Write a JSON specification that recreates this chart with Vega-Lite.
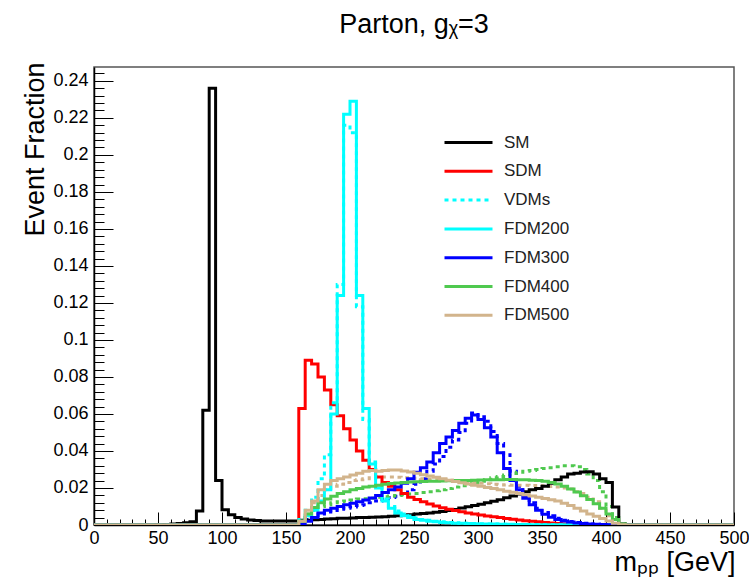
{
  "$schema": "https://vega.github.io/schema/vega-lite/v6.json",
  "autosize": "none",
  "width": 640,
  "height": 458,
  "padding": {"left": 94, "top": 67, "right": 15, "bottom": 52},
  "background": "white",
  "config": {
    "font": "Liberation Sans",
    "view": {"stroke": "#555", "strokeWidth": 1.5},
    "axis": {"grid": false, "domainColor": "black", "domainWidth": 1.5, "tickColor": "black", "tickWidth": 1, "labelColor": "black", "labelFont": "Liberation Sans", "labelFontSize": 18, "labelFlush": false, "titleFont": "Liberation Sans", "titleFontWeight": "normal", "titleColor": "black"}
  },
  "title": {"text": "Parton, gᵪ=3", "font": "Liberation Sans", "fontSize": 27, "fontWeight": "normal", "color": "black", "anchor": "middle", "baseline": "alphabetic", "offset": 2},
  "data": {"values": [
    {"x":0,"SM":0,"SDM":0,"VDMs":0,"FDM200":0,"FDM300":0,"FDM400":0,"FDM500":0,"VDM300":0,"VDM400":0,"VDM500":0},
    {"x":5,"SM":0,"SDM":0,"VDMs":0,"FDM200":0,"FDM300":0,"FDM400":0,"FDM500":0,"VDM300":0,"VDM400":0,"VDM500":0},
    {"x":10,"SM":0,"SDM":0,"VDMs":0,"FDM200":0,"FDM300":0,"FDM400":0,"FDM500":0,"VDM300":0,"VDM400":0,"VDM500":0},
    {"x":15,"SM":0,"SDM":0,"VDMs":0,"FDM200":0,"FDM300":0,"FDM400":0,"FDM500":0,"VDM300":0,"VDM400":0,"VDM500":0},
    {"x":20,"SM":0,"SDM":0,"VDMs":0,"FDM200":0,"FDM300":0,"FDM400":0,"FDM500":0,"VDM300":0,"VDM400":0,"VDM500":0},
    {"x":25,"SM":0,"SDM":0,"VDMs":0,"FDM200":0,"FDM300":0,"FDM400":0,"FDM500":0,"VDM300":0,"VDM400":0,"VDM500":0},
    {"x":30,"SM":0,"SDM":0,"VDMs":0,"FDM200":0,"FDM300":0,"FDM400":0,"FDM500":0,"VDM300":0,"VDM400":0,"VDM500":0},
    {"x":35,"SM":0,"SDM":0,"VDMs":0,"FDM200":0,"FDM300":0,"FDM400":0,"FDM500":0,"VDM300":0,"VDM400":0,"VDM500":0},
    {"x":40,"SM":0,"SDM":0,"VDMs":0,"FDM200":0,"FDM300":0,"FDM400":0,"FDM500":0,"VDM300":0,"VDM400":0,"VDM500":0},
    {"x":45,"SM":0.0001,"SDM":0,"VDMs":0,"FDM200":0,"FDM300":0,"FDM400":0,"FDM500":0,"VDM300":0,"VDM400":0,"VDM500":0},
    {"x":50,"SM":0.0002,"SDM":0,"VDMs":0,"FDM200":0,"FDM300":0,"FDM400":0,"FDM500":0,"VDM300":0,"VDM400":0,"VDM500":0},
    {"x":55,"SM":0.0003,"SDM":0,"VDMs":0,"FDM200":0,"FDM300":0,"FDM400":0,"FDM500":0,"VDM300":0,"VDM400":0,"VDM500":0},
    {"x":60,"SM":0.0005,"SDM":0,"VDMs":0,"FDM200":0,"FDM300":0,"FDM400":0,"FDM500":0,"VDM300":0,"VDM400":0,"VDM500":0},
    {"x":65,"SM":0.0008,"SDM":0,"VDMs":0,"FDM200":0,"FDM300":0,"FDM400":0,"FDM500":0,"VDM300":0,"VDM400":0,"VDM500":0},
    {"x":70,"SM":0.0012,"SDM":0,"VDMs":0,"FDM200":0,"FDM300":0,"FDM400":0,"FDM500":0,"VDM300":0,"VDM400":0,"VDM500":0},
    {"x":75,"SM":0.0018,"SDM":0,"VDMs":0,"FDM200":0,"FDM300":0,"FDM400":0,"FDM500":0,"VDM300":0,"VDM400":0,"VDM500":0},
    {"x":80,"SM":0.0075,"SDM":0,"VDMs":0,"FDM200":0,"FDM300":0,"FDM400":0,"FDM500":0,"VDM300":0,"VDM400":0,"VDM500":0},
    {"x":85,"SM":0.062,"SDM":0,"VDMs":0,"FDM200":0,"FDM300":0,"FDM400":0,"FDM500":0,"VDM300":0,"VDM400":0,"VDM500":0},
    {"x":90,"SM":0.236,"SDM":0,"VDMs":0,"FDM200":0,"FDM300":0,"FDM400":0,"FDM500":0,"VDM300":0,"VDM400":0,"VDM500":0},
    {"x":95,"SM":0.024,"SDM":0,"VDMs":0,"FDM200":0,"FDM300":0,"FDM400":0,"FDM500":0,"VDM300":0,"VDM400":0,"VDM500":0},
    {"x":100,"SM":0.0082,"SDM":0,"VDMs":0,"FDM200":0,"FDM300":0,"FDM400":0,"FDM500":0,"VDM300":0,"VDM400":0,"VDM500":0},
    {"x":105,"SM":0.0055,"SDM":0,"VDMs":0,"FDM200":0,"FDM300":0,"FDM400":0,"FDM500":0,"VDM300":0,"VDM400":0,"VDM500":0},
    {"x":110,"SM":0.004,"SDM":0,"VDMs":0,"FDM200":0,"FDM300":0,"FDM400":0,"FDM500":0,"VDM300":0,"VDM400":0,"VDM500":0},
    {"x":115,"SM":0.0032,"SDM":0,"VDMs":0,"FDM200":0,"FDM300":0,"FDM400":0,"FDM500":0,"VDM300":0,"VDM400":0,"VDM500":0},
    {"x":120,"SM":0.0027,"SDM":0,"VDMs":0,"FDM200":0,"FDM300":0,"FDM400":0,"FDM500":0,"VDM300":0,"VDM400":0,"VDM500":0},
    {"x":125,"SM":0.0024,"SDM":0,"VDMs":0,"FDM200":0,"FDM300":0,"FDM400":0,"FDM500":0,"VDM300":0,"VDM400":0,"VDM500":0},
    {"x":130,"SM":0.0022,"SDM":0,"VDMs":0,"FDM200":0,"FDM300":0,"FDM400":0,"FDM500":0,"VDM300":0,"VDM400":0,"VDM500":0},
    {"x":135,"SM":0.0021,"SDM":0,"VDMs":0,"FDM200":0,"FDM300":0,"FDM400":0,"FDM500":0,"VDM300":0,"VDM400":0,"VDM500":0},
    {"x":140,"SM":0.0021,"SDM":0,"VDMs":0,"FDM200":0,"FDM300":0,"FDM400":0,"FDM500":0,"VDM300":0,"VDM400":0,"VDM500":0},
    {"x":145,"SM":0.0021,"SDM":0,"VDMs":0,"FDM200":0,"FDM300":0,"FDM400":0,"FDM500":0,"VDM300":0,"VDM400":0,"VDM500":0},
    {"x":150,"SM":0.0021,"SDM":0,"VDMs":0,"FDM200":0,"FDM300":0,"FDM400":0,"FDM500":0,"VDM300":0,"VDM400":0,"VDM500":0},
    {"x":155,"SM":0.0022,"SDM":0,"VDMs":0,"FDM200":0,"FDM300":0,"FDM400":0,"FDM500":0,"VDM300":0,"VDM400":0,"VDM500":0},
    {"x":160,"SM":0.0025,"SDM":0.063,"VDMs":0.003,"FDM200":0.002,"FDM300":0.0005,"FDM400":0.002,"FDM500":0.002,"VDM300":0.001,"VDM400":0.002,"VDM500":0.002},
    {"x":165,"SM":0.0026,"SDM":0.089,"VDMs":0.008,"FDM200":0.005,"FDM300":0.002,"FDM400":0.006,"FDM500":0.008,"VDM300":0.003,"VDM400":0.005,"VDM500":0.006},
    {"x":170,"SM":0.0028,"SDM":0.087,"VDMs":0.015,"FDM200":0.008,"FDM300":0.004,"FDM400":0.0095,"FDM500":0.013,"VDM300":0.005,"VDM400":0.008,"VDM500":0.012},
    {"x":175,"SM":0.003,"SDM":0.08,"VDMs":0.025,"FDM200":0.013,"FDM300":0.0065,"FDM400":0.012,"FDM500":0.019,"VDM300":0.006,"VDM400":0.01,"VDM500":0.016},
    {"x":180,"SM":0.0032,"SDM":0.073,"VDMs":0.038,"FDM200":0.019,"FDM300":0.008,"FDM400":0.014,"FDM500":0.022,"VDM300":0.007,"VDM400":0.011,"VDM500":0.019},
    {"x":185,"SM":0.0034,"SDM":0.065,"VDMs":0.066,"FDM200":0.06,"FDM300":0.009,"FDM400":0.0155,"FDM500":0.024,"VDM300":0.0078,"VDM400":0.012,"VDM500":0.021},
    {"x":190,"SM":0.0036,"SDM":0.059,"VDMs":0.13,"FDM200":0.124,"FDM300":0.01,"FDM400":0.017,"FDM500":0.025,"VDM300":0.0085,"VDM400":0.0125,"VDM500":0.022},
    {"x":195,"SM":0.0037,"SDM":0.052,"VDMs":0.216,"FDM200":0.222,"FDM300":0.011,"FDM400":0.018,"FDM500":0.026,"VDM300":0.009,"VDM400":0.013,"VDM500":0.023},
    {"x":200,"SM":0.0038,"SDM":0.046,"VDMs":0.212,"FDM200":0.229,"FDM300":0.0118,"FDM400":0.019,"FDM500":0.027,"VDM300":0.0097,"VDM400":0.0135,"VDM500":0.024},
    {"x":205,"SM":0.004,"SDM":0.04,"VDMs":0.118,"FDM200":0.124,"FDM300":0.0125,"FDM400":0.0197,"FDM500":0.028,"VDM300":0.0105,"VDM400":0.014,"VDM500":0.0245},
    {"x":210,"SM":0.0041,"SDM":0.035,"VDMs":0.057,"FDM200":0.063,"FDM300":0.0135,"FDM400":0.0205,"FDM500":0.029,"VDM300":0.011,"VDM400":0.0142,"VDM500":0.025},
    {"x":215,"SM":0.0042,"SDM":0.03,"VDMs":0.034,"FDM200":0.033,"FDM300":0.0146,"FDM400":0.021,"FDM500":0.0295,"VDM300":0.012,"VDM400":0.0145,"VDM500":0.0255},
    {"x":220,"SM":0.0043,"SDM":0.026,"VDMs":0.021,"FDM200":0.02,"FDM300":0.016,"FDM400":0.0215,"FDM500":0.029,"VDM300":0.013,"VDM400":0.015,"VDM500":0.026},
    {"x":225,"SM":0.0045,"SDM":0.023,"VDMs":0.014,"FDM200":0.013,"FDM300":0.0175,"FDM400":0.022,"FDM500":0.0295,"VDM300":0.014,"VDM400":0.0153,"VDM500":0.026},
    {"x":230,"SM":0.0047,"SDM":0.021,"VDMs":0.01,"FDM200":0.009,"FDM300":0.019,"FDM400":0.0224,"FDM500":0.0297,"VDM300":0.0148,"VDM400":0.0157,"VDM500":0.026},
    {"x":235,"SM":0.005,"SDM":0.019,"VDMs":0.0075,"FDM200":0.0065,"FDM300":0.0205,"FDM400":0.0227,"FDM500":0.0297,"VDM300":0.0155,"VDM400":0.016,"VDM500":0.0258},
    {"x":240,"SM":0.0053,"SDM":0.017,"VDMs":0.006,"FDM200":0.005,"FDM300":0.0225,"FDM400":0.023,"FDM500":0.0292,"VDM300":0.017,"VDM400":0.0163,"VDM500":0.0256},
    {"x":245,"SM":0.0056,"SDM":0.015,"VDMs":0.0048,"FDM200":0.004,"FDM300":0.025,"FDM400":0.0232,"FDM500":0.0287,"VDM300":0.019,"VDM400":0.0167,"VDM500":0.0254},
    {"x":250,"SM":0.0059,"SDM":0.0138,"VDMs":0.0038,"FDM200":0.003,"FDM300":0.0285,"FDM400":0.0234,"FDM500":0.028,"VDM300":0.022,"VDM400":0.017,"VDM500":0.0252},
    {"x":255,"SM":0.0062,"SDM":0.0125,"VDMs":0.003,"FDM200":0.0025,"FDM300":0.031,"FDM400":0.0235,"FDM500":0.0272,"VDM300":0.025,"VDM400":0.0175,"VDM500":0.025},
    {"x":260,"SM":0.0065,"SDM":0.0113,"VDMs":0.0025,"FDM200":0.002,"FDM300":0.034,"FDM400":0.0236,"FDM500":0.0265,"VDM300":0.029,"VDM400":0.018,"VDM500":0.0248},
    {"x":265,"SM":0.0069,"SDM":0.0103,"VDMs":0.002,"FDM200":0.0017,"FDM300":0.039,"FDM400":0.0237,"FDM500":0.0258,"VDM300":0.033,"VDM400":0.0185,"VDM500":0.0246},
    {"x":270,"SM":0.0073,"SDM":0.0093,"VDMs":0.0017,"FDM200":0.0014,"FDM300":0.044,"FDM400":0.0238,"FDM500":0.025,"VDM300":0.037,"VDM400":0.019,"VDM500":0.0244},
    {"x":275,"SM":0.0078,"SDM":0.0085,"VDMs":0.0014,"FDM200":0.0012,"FDM300":0.0475,"FDM400":0.0239,"FDM500":0.0242,"VDM300":0.042,"VDM400":0.0197,"VDM500":0.0242},
    {"x":280,"SM":0.0084,"SDM":0.0078,"VDMs":0.0012,"FDM200":0.001,"FDM300":0.051,"FDM400":0.024,"FDM500":0.0235,"VDM300":0.046,"VDM400":0.0205,"VDM500":0.024},
    {"x":285,"SM":0.0092,"SDM":0.0071,"VDMs":0.001,"FDM200":0.0009,"FDM300":0.055,"FDM400":0.024,"FDM500":0.0228,"VDM300":0.05,"VDM400":0.0212,"VDM500":0.0237},
    {"x":290,"SM":0.0099,"SDM":0.0065,"VDMs":0.0009,"FDM200":0.0008,"FDM300":0.0577,"FDM400":0.0241,"FDM500":0.0222,"VDM300":0.055,"VDM400":0.022,"VDM500":0.0234},
    {"x":295,"SM":0.0105,"SDM":0.006,"VDMs":0.0008,"FDM200":0.0007,"FDM300":0.0595,"FDM400":0.0242,"FDM500":0.0215,"VDM300":0.0605,"VDM400":0.0228,"VDM500":0.023},
    {"x":300,"SM":0.0112,"SDM":0.0054,"VDMs":0.0007,"FDM200":0.0006,"FDM300":0.057,"FDM400":0.0243,"FDM500":0.021,"VDM300":0.0585,"VDM400":0.0236,"VDM500":0.0226},
    {"x":305,"SM":0.012,"SDM":0.0049,"VDMs":0.0006,"FDM200":0.0005,"FDM300":0.0525,"FDM400":0.0244,"FDM500":0.0203,"VDM300":0.056,"VDM400":0.0245,"VDM500":0.0223},
    {"x":310,"SM":0.0128,"SDM":0.0044,"VDMs":0.0005,"FDM200":0.0005,"FDM300":0.0475,"FDM400":0.0245,"FDM500":0.0197,"VDM300":0.0505,"VDM400":0.0255,"VDM500":0.022},
    {"x":315,"SM":0.0137,"SDM":0.004,"VDMs":0.0005,"FDM200":0.0004,"FDM300":0.039,"FDM400":0.0245,"FDM500":0.019,"VDM300":0.044,"VDM400":0.0262,"VDM500":0.0218},
    {"x":320,"SM":0.0147,"SDM":0.0035,"VDMs":0.0004,"FDM200":0.0004,"FDM300":0.0305,"FDM400":0.0246,"FDM500":0.0183,"VDM300":0.038,"VDM400":0.027,"VDM500":0.0216},
    {"x":325,"SM":0.0157,"SDM":0.0031,"VDMs":0.0004,"FDM200":0.0003,"FDM300":0.024,"FDM400":0.0246,"FDM500":0.0177,"VDM300":0.029,"VDM400":0.0278,"VDM500":0.0215},
    {"x":330,"SM":0.0168,"SDM":0.0027,"VDMs":0.0003,"FDM200":0.0003,"FDM300":0.019,"FDM400":0.0245,"FDM500":0.017,"VDM300":0.021,"VDM400":0.0285,"VDM500":0.0215},
    {"x":335,"SM":0.018,"SDM":0.0023,"VDMs":0.0003,"FDM200":0.0003,"FDM300":0.0145,"FDM400":0.0244,"FDM500":0.0163,"VDM300":0.016,"VDM400":0.029,"VDM500":0.0215},
    {"x":340,"SM":0.019,"SDM":0.002,"VDMs":0.0003,"FDM200":0.0002,"FDM300":0.011,"FDM400":0.0242,"FDM500":0.0157,"VDM300":0.012,"VDM400":0.0295,"VDM500":0.0214},
    {"x":345,"SM":0.0197,"SDM":0.0017,"VDMs":0.0002,"FDM200":0.0002,"FDM300":0.008,"FDM400":0.024,"FDM500":0.015,"VDM300":0.009,"VDM400":0.03,"VDM500":0.0213},
    {"x":350,"SM":0.021,"SDM":0.0014,"VDMs":0.0002,"FDM200":0.0002,"FDM300":0.0058,"FDM400":0.0236,"FDM500":0.0143,"VDM300":0.0067,"VDM400":0.0305,"VDM500":0.0211},
    {"x":355,"SM":0.0225,"SDM":0.0011,"VDMs":0.0002,"FDM200":0.0002,"FDM300":0.0042,"FDM400":0.023,"FDM500":0.0137,"VDM300":0.005,"VDM400":0.031,"VDM500":0.0208},
    {"x":360,"SM":0.0245,"SDM":0.0008,"VDMs":0.0002,"FDM200":0.0001,"FDM300":0.003,"FDM400":0.0222,"FDM500":0.013,"VDM300":0.0036,"VDM400":0.0315,"VDM500":0.0205},
    {"x":365,"SM":0.026,"SDM":0.0005,"VDMs":0.0001,"FDM200":0.0001,"FDM300":0.0022,"FDM400":0.021,"FDM500":0.0118,"VDM300":0.0026,"VDM400":0.032,"VDM500":0.02},
    {"x":370,"SM":0.0275,"SDM":0.0003,"VDMs":0.0001,"FDM200":0.0001,"FDM300":0.0016,"FDM400":0.0195,"FDM500":0.0105,"VDM300":0.0019,"VDM400":0.032,"VDM500":0.0195},
    {"x":375,"SM":0.028,"SDM":0.0001,"VDMs":0.0001,"FDM200":0.0001,"FDM300":0.0011,"FDM400":0.0178,"FDM500":0.009,"VDM300":0.0013,"VDM400":0.0315,"VDM500":0.018},
    {"x":380,"SM":0.0287,"SDM":0,"VDMs":0.0001,"FDM200":0.0001,"FDM300":0.0008,"FDM400":0.0158,"FDM500":0.0075,"VDM300":0.0009,"VDM400":0.03,"VDM500":0.017},
    {"x":385,"SM":0.0288,"SDM":0,"VDMs":0.0001,"FDM200":0,"FDM300":0.0005,"FDM400":0.0138,"FDM500":0.006,"VDM300":0.0006,"VDM400":0.0275,"VDM500":0.015},
    {"x":390,"SM":0.0275,"SDM":0,"VDMs":0,"FDM200":0,"FDM300":0.0004,"FDM400":0.0115,"FDM500":0.0047,"VDM300":0.0004,"VDM400":0.024,"VDM500":0.0125},
    {"x":395,"SM":0.025,"SDM":0,"VDMs":0,"FDM200":0,"FDM300":0.0003,"FDM400":0.009,"FDM500":0.0035,"VDM300":0.0003,"VDM400":0.018,"VDM500":0.009},
    {"x":400,"SM":0.023,"SDM":0,"VDMs":0,"FDM200":0,"FDM300":0.0002,"FDM400":0.006,"FDM500":0.0022,"VDM300":0.0002,"VDM400":0.01,"VDM500":0.005},
    {"x":405,"SM":0.0097,"SDM":0,"VDMs":0,"FDM200":0,"FDM300":0.0001,"FDM400":0.003,"FDM500":0.001,"VDM300":0.0001,"VDM400":0.004,"VDM500":0.002},
    {"x":410,"SM":0.0005,"SDM":0,"VDMs":0,"FDM200":0,"FDM300":0,"FDM400":0.0005,"FDM500":0.0002,"VDM300":0,"VDM400":0.0005,"VDM500":0.0003},
    {"x":415,"SM":0,"SDM":0,"VDMs":0,"FDM200":0,"FDM300":0,"FDM400":0,"FDM500":0,"VDM300":0,"VDM400":0,"VDM500":0},
    {"x":420,"SM":0,"SDM":0,"VDMs":0,"FDM200":0,"FDM300":0,"FDM400":0,"FDM500":0,"VDM300":0,"VDM400":0,"VDM500":0},
    {"x":425,"SM":0,"SDM":0,"VDMs":0,"FDM200":0,"FDM300":0,"FDM400":0,"FDM500":0,"VDM300":0,"VDM400":0,"VDM500":0},
    {"x":430,"SM":0,"SDM":0,"VDMs":0,"FDM200":0,"FDM300":0,"FDM400":0,"FDM500":0,"VDM300":0,"VDM400":0,"VDM500":0},
    {"x":435,"SM":0,"SDM":0,"VDMs":0,"FDM200":0,"FDM300":0,"FDM400":0,"FDM500":0,"VDM300":0,"VDM400":0,"VDM500":0},
    {"x":440,"SM":0,"SDM":0,"VDMs":0,"FDM200":0,"FDM300":0,"FDM400":0,"FDM500":0,"VDM300":0,"VDM400":0,"VDM500":0},
    {"x":445,"SM":0,"SDM":0,"VDMs":0,"FDM200":0,"FDM300":0,"FDM400":0,"FDM500":0,"VDM300":0,"VDM400":0,"VDM500":0},
    {"x":450,"SM":0,"SDM":0,"VDMs":0,"FDM200":0,"FDM300":0,"FDM400":0,"FDM500":0,"VDM300":0,"VDM400":0,"VDM500":0},
    {"x":455,"SM":0,"SDM":0,"VDMs":0,"FDM200":0,"FDM300":0,"FDM400":0,"FDM500":0,"VDM300":0,"VDM400":0,"VDM500":0},
    {"x":460,"SM":0,"SDM":0,"VDMs":0,"FDM200":0,"FDM300":0,"FDM400":0,"FDM500":0,"VDM300":0,"VDM400":0,"VDM500":0},
    {"x":465,"SM":0,"SDM":0,"VDMs":0,"FDM200":0,"FDM300":0,"FDM400":0,"FDM500":0,"VDM300":0,"VDM400":0,"VDM500":0},
    {"x":470,"SM":0,"SDM":0,"VDMs":0,"FDM200":0,"FDM300":0,"FDM400":0,"FDM500":0,"VDM300":0,"VDM400":0,"VDM500":0},
    {"x":475,"SM":0,"SDM":0,"VDMs":0,"FDM200":0,"FDM300":0,"FDM400":0,"FDM500":0,"VDM300":0,"VDM400":0,"VDM500":0},
    {"x":480,"SM":0,"SDM":0,"VDMs":0,"FDM200":0,"FDM300":0,"FDM400":0,"FDM500":0,"VDM300":0,"VDM400":0,"VDM500":0},
    {"x":485,"SM":0,"SDM":0,"VDMs":0,"FDM200":0,"FDM300":0,"FDM400":0,"FDM500":0,"VDM300":0,"VDM400":0,"VDM500":0},
    {"x":490,"SM":0,"SDM":0,"VDMs":0,"FDM200":0,"FDM300":0,"FDM400":0,"FDM500":0,"VDM300":0,"VDM400":0,"VDM500":0},
    {"x":495,"SM":0,"SDM":0,"VDMs":0,"FDM200":0,"FDM300":0,"FDM400":0,"FDM500":0,"VDM300":0,"VDM400":0,"VDM500":0},
    {"x":500,"SM":0,"SDM":0,"VDMs":0,"FDM200":0,"FDM300":0,"FDM400":0,"FDM500":0,"VDM300":0,"VDM400":0,"VDM500":0}
  ]},
  "resolve": {"axis": {"x": "independent", "y": "independent"}},
  "layer": [
    {
      "transform": [{"fold": ["VDM300", "VDM400", "VDM500"], "as": ["series", "value"]}],
      "mark": {"type": "line", "interpolate": "step-after", "strokeWidth": 3, "strokeDash": [4, 4], "clip": true},
      "encoding": {
        "x": {"field": "x", "type": "quantitative", "scale": {"domain": [0, 500], "nice": false, "zero": false},
              "axis": {"orient": "bottom", "values": [0,10,20,30,40,60,70,80,90,110,120,130,140,160,170,180,190,210,220,230,240,260,270,280,290,310,320,330,340,360,370,380,390,410,420,430,440,460,470,480,490], "labels": false, "domain": false, "tickSize": -6, "title": null}},
        "y": {"field": "value", "type": "quantitative", "scale": {"domain": [0, 0.2475], "nice": false},
              "axis": {"orient": "left", "values": [0.004,0.008,0.012,0.016,0.024,0.028,0.032,0.036,0.044,0.048,0.052,0.056,0.064,0.068,0.072,0.076,0.084,0.088,0.092,0.096,0.104,0.108,0.112,0.116,0.124,0.128,0.132,0.136,0.144,0.148,0.152,0.156,0.164,0.168,0.172,0.176,0.184,0.188,0.192,0.196,0.204,0.208,0.212,0.216,0.224,0.228,0.232,0.236,0.244], "labels": false, "domain": false, "tickSize": -10, "title": null}},
        "stroke": {"field": "series", "type": "nominal", "scale": {"domain": ["VDM300", "VDM400", "VDM500"], "range": ["#0000ff", "#4fc94f", "#d2b48c"]}, "legend": null}
      }
    },
    {
      "transform": [{"fold": ["SM", "SDM", "VDMs", "FDM200", "FDM300", "FDM400", "FDM500"], "as": ["series", "value"]}],
      "mark": {"type": "line", "interpolate": "step-after", "strokeWidth": 3, "clip": true},
      "encoding": {
        "x": {"field": "x", "type": "quantitative",
              "axis": {"orient": "bottom", "values": [0,50,100,150,200,250,300,350,400,450,500], "tickSize": -13, "labelPadding": 17, "labelFontSize": 18,
                       "title": "mₚₚ [GeV]", "titleFontSize": 27, "titleAnchor": "end", "titleAlign": "right", "titleBaseline": "alphabetic", "titleX": 641, "titleY": 45}},
        "y": {"field": "value", "type": "quantitative",
              "axis": {"orient": "left", "values": [0,0.02,0.04,0.06,0.08,0.1,0.12,0.14,0.16,0.18,0.2,0.22,0.24], "format": ".2~f", "tickSize": -19, "labelPadding": 25, "labelFontSize": 18,
                       "title": "Event Fraction", "titleFontSize": 27, "titleAngle": 270, "titleAlign": "right", "titleBaseline": "middle", "titleX": -59, "titleY": -5}},
        "color": {"field": "series", "type": "nominal", "title": null,
                  "scale": {"domain": ["SM", "SDM", "VDMs", "FDM200", "FDM300", "FDM400", "FDM500"], "range": ["#000000", "#ff0000", "#00ffff", "#00ffff", "#0000ff", "#4fc94f", "#d2b48c"]},
                  "legend": {"orient": "none", "legendX": 361, "legendY": 62, "symbolType": "M-2,0H2", "symbolSize": 576, "symbolStrokeWidth": 3, "labelFontSize": 17, "labelOffset": 22, "rowPadding": 6.8, "labelColor": "#222", "labelFont": "Liberation Sans"}},
        "strokeDash": {"field": "series", "type": "nominal", "title": null,
                  "scale": {"domain": ["SM", "SDM", "VDMs", "FDM200", "FDM300", "FDM400", "FDM500"], "range": [[1,0],[1,0],[4,4],[1,0],[1,0],[1,0],[1,0]]}}
      }
    }
  ]
}
